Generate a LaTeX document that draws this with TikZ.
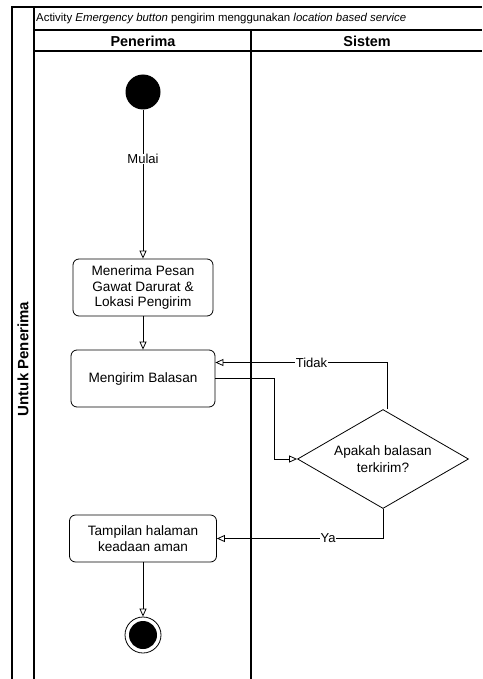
\documentclass[tikz,border=0pt]{standalone}
\usepackage{fontspec}
\setmainfont{Liberation Sans}
\usetikzlibrary{shapes.geometric,arrows.meta,positioning}

\begin{document}
\begin{tikzpicture}[x=1pt, y=-1pt,
  act/.style={draw, rounded corners=6pt, line width=0.8pt,
              minimum width=#1, minimum height=57pt,
              font=\fontsize{13.6}{15.5}\selectfont, align=center},
  arr/.style={-{Triangle[open,length=8pt,width=7pt]}, line width=0.8pt},
  lane/.style={line width=1.2pt},
  lbl/.style={fill=white, inner sep=0.5pt, font=\fontsize{13}{14}\selectfont}
]
  \useasboundingbox (0,0) rectangle (482,679);
  % swimlane frame
  \draw[lane] (12,679) -- (12,7) -- (482,7);
  \draw[lane] (34,7) -- (34,679);
  \draw[lane] (34,30) -- (482,30);
  \draw[lane] (34,51) -- (482,51);
  \draw[lane] (251,30) -- (251,679);
  \node[anchor=west, inner sep=0, font=\fontsize{11.4}{13}\selectfont] (title) at (36,19)
    {Activity \textit{Emergency button} pengirim menggunakan \textit{location based service}};
  \node[font=\bfseries\fontsize{14.4}{16}\selectfont] (penerima) at (143,41) {Penerima};
  \node[font=\bfseries\fontsize{14.4}{16}\selectfont] (sistem)   at (367,41) {Sistem};
  \node[rotate=90, font=\bfseries\fontsize{15}{17}\selectfont] (lanename) at (23,359) {Untuk Penerima};

  % activities
  \node[circle, fill=black, minimum size=35pt, inner sep=0] (start) at (143,92) {};
  \node[act=140pt] (recv) at (143,287.5) {Menerima Pesan\\Gawat Darurat \&\\Lokasi Pengirim};
  \node[act=144pt] (send) at (143,378.5) {Mengirim Balasan};
  \node[diamond, draw, line width=0.8pt, aspect=1.73, minimum width=171pt, minimum height=99pt,
        inner sep=0, align=center, font=\fontsize{13.6}{17}\selectfont] (dec) at (383,459)
        {Apakah balasan\\terkirim?};
  \node[act=147pt, minimum height=47pt] (safe) at (143,538.5) {Tampilan halaman\\keadaan aman};
  \node[circle, draw, line width=0.8pt, minimum size=36pt, inner sep=0] (stop) at (143,635) {};
  \node[circle, fill=black, minimum size=28pt, inner sep=0] (stopdot) at (stop) {};

  \draw[arr] (start) -- node[lbl, pos=0.33] {Mulai} (recv);
  \draw[arr] (recv) -- (send);
  \draw[arr] (send.east) -- ++(59,0) |- (dec.west);
  \draw[arr] ([xshift=4pt]dec.north) |- node[lbl, pos=0.72] {Tidak} ([yshift=16pt]send.east);
  \draw[arr] (dec.south) |- node[lbl, pos=0.665] {Ya} (safe.east);
  \draw[arr] (safe) -- (stop);
\end{tikzpicture}
\end{document}
